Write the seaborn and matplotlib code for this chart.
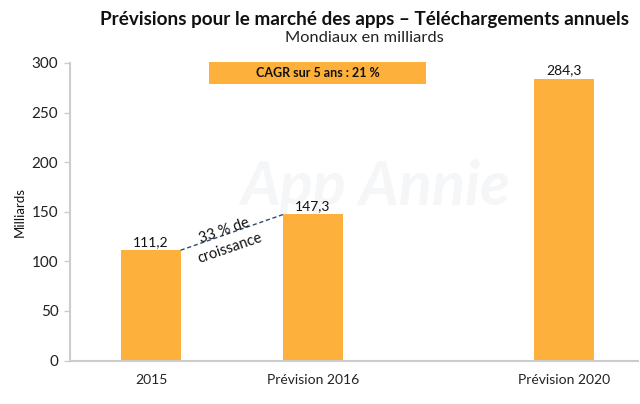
import numpy as np
import pandas as pd
import matplotlib
matplotlib.use('Agg')
import matplotlib.pyplot as plt
from matplotlib.patches import Rectangle
import seaborn as sns

categories = ['2015', 'Prévision 2016', 'Prévision 2020']
downloads = [111.2, 147.3, 284.3]
value_labels = ['111,2', '147,3', '284,3']
slots = [0, 1, 2.55]  # the 2020 bar sits further out on the axis
y_ticks = [0, 50, 100, 150, 200, 250, 300]

ORANGE = '#fdb13c'
GREY = '#cccccc'

sns.set_theme(style='white')
plt.rcParams['font.family'] = ['Lato', 'DejaVu Sans']

df = pd.DataFrame({'slot': slots, 'downloads': downloads})

fig = plt.figure(figsize=(6.4, 4.04), dpi=100)
ax = fig.add_axes([69.5 / 640, 43.5 / 404, 568 / 640, 297.5 / 404])
ax.set_zorder(2)
ax.patch.set_alpha(0)

# watermark goes behind everything
fig.text(375 / 640, 1 - 187 / 404, 'App Annie', fontsize=44, style='italic', fontweight='bold',
         color='#f5f6f7', ha='center', va='center', zorder=0)

sns.barplot(data=df, x='slot', y='downloads', native_scale=True, color=ORANGE,
            saturation=1, width=0.366, linewidth=0, ax=ax)

ax.set_xlim(-0.503, 3.003)
ax.set_ylim(0, 300)
ax.set_xticks(slots)
ax.set_xticklabels(categories, fontsize=10, color='#222222')
ax.set_yticks(y_ticks)
ax.set_yticklabels([str(t) for t in y_ticks], fontsize=11, color='#222222')
ax.tick_params(axis='x', length=0, pad=10)
ax.tick_params(axis='y', left=True, length=4, width=1, color=GREY, pad=4)
ax.set_xlabel('')
ax.set_ylabel('Milliards', fontsize=9.5, color='#111111', labelpad=4)

sns.despine(ax=ax)
for side in ['left', 'bottom']:
    ax.spines[side].set_color(GREY)
    ax.spines[side].set_linewidth(1.5)

for s, v, lab in zip(slots, downloads, value_labels):
    ax.text(s, v + 2, lab, ha='center', va='bottom', fontsize=10, color='#111111')

# growth line between the tops of the first two bars
half = 0.366 / 2
ax.plot([slots[0] + half, slots[1] - half], [downloads[0], downloads[1]],
        color='#2f4a6b', lw=1, ls=(0, (3, 2)))
ax.text(0.47, 122, '33 % de\ncroissance', rotation=19, rotation_mode='anchor',
        ha='center', va='center', fontsize=10.5, color='#111111', linespacing=1.35)

fig.text(365 / 640, 1 - 20 / 404, 'Prévisions pour le marché des apps – Téléchargements annuels',
         fontsize=13.6, fontweight='bold', color='#111111', ha='center', va='center')
fig.text(364 / 640, 1 - 37.5 / 404, 'Mondiaux en milliards',
         fontsize=11.8, color='#222222', ha='center', va='center')

fig.add_artist(Rectangle((209 / 640, 1 - 84 / 404), 217 / 640, 22 / 404,
                         transform=fig.transFigure, facecolor=ORANGE, edgecolor='none'))
fig.text(317.5 / 640, 1 - 73 / 404, 'CAGR sur 5 ans : 21 %', fontsize=9, fontweight='bold',
         color='#111111', ha='center', va='center')

fig.savefig('out.png', dpi=100)
